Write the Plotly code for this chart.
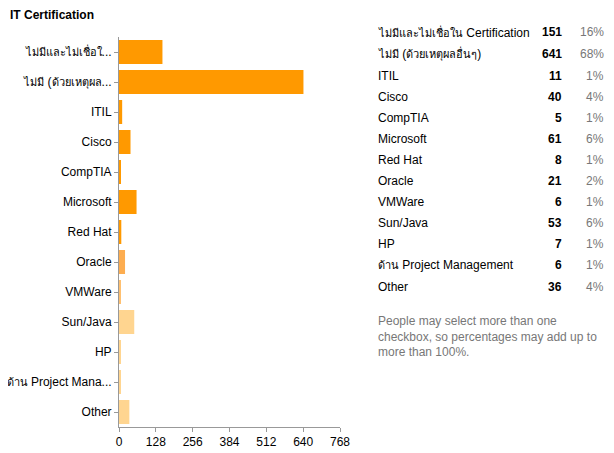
import plotly.graph_objects as go

# Data
labels = ["ไม่มีและไม่เชื่อใน Certification", "ไม่มี (ด้วยเหตุผลอื่นๆ)", "ITIL", "Cisco", "CompTIA",
          "Microsoft", "Red Hat", "Oracle", "VMWare", "Sun/Java", "HP", "ด้าน Project Management", "Other"]
tick_labels = ["ไม่มีและไม่เชื่อใ...", "ไม่มี (ด้วยเหตุผล...", "ITIL", "Cisco", "CompTIA",
               "Microsoft", "Red Hat", "Oracle", "VMWare", "Sun/Java", "HP", "ด้าน Project Mana...", "Other"]
counts = [151, 641, 11, 40, 5, 61, 8, 21, 6, 53, 7, 6, 36]
percents = ["16%", "68%", "1%", "4%", "1%", "6%", "1%", "2%", "1%", "6%", "1%", "1%", "4%"]
x_ticks = [0, 128, 256, 384, 512, 640, 768]

colors = ["#FF9900"] * 7 + ["#FDAD50", "#FFC070"] + ["#FFD590"] * 4

# page body has an 8px margin, so the figure sits at (8, 8) in the window
OFF = 8
W, H = 614 - OFF, 453 - OFF
L, R, T, B = 119 - OFF, 340 - OFF, 37 - OFF, 427 - OFF
FONT = "Arial, Liberation Sans, DejaVu Sans, sans-serif"


def thai_small(s):
    # the fallback Thai font runs wider than the original, so set Thai runs a bit smaller
    out, run = "", ""
    for ch in s:
        if "\u0e00" <= ch <= "\u0e7f":
            run += ch
        else:
            if run:
                out += '<span style="font-size:11px">%s</span>' % run
                run = ""
            out += ch
    if run:
        out += '<span style="font-size:11px">%s</span>' % run
    return out


fig = go.Figure(go.Bar(
    x=counts, y=tick_labels, orientation="h",
    marker=dict(color=colors, line=dict(width=0)),
))

# window pixel -> paper coordinates
def px_x(px):
    return (px - OFF - L) / (R - L)

def px_y(py):
    return (B - (py - OFF)) / (B - T)

ann = [dict(text="<b>IT Certification</b>", x=px_x(8), y=px_y(15), xref="paper", yref="paper",
            xanchor="left", yanchor="middle", showarrow=False, font=dict(size=12, color="#000"))]

row_y = [32, 54, 76, 97, 118, 139, 160, 181, 202, 223, 244, 265, 287]
for lab, c, p, ry in zip(labels, counts, percents, row_y):
    ann.append(dict(text=thai_small(lab), x=px_x(376), y=px_y(ry), xref="paper", yref="paper",
                    xanchor="left", yanchor="middle", showarrow=False,
                    font=dict(size=12, color="#000")))
    ann.append(dict(text="<b>%d</b>" % c, x=px_x(564), y=px_y(ry), xref="paper", yref="paper",
                    xanchor="right", yanchor="middle", showarrow=False,
                    font=dict(size=12, color="#000")))
    ann.append(dict(text=p, x=px_x(606), y=px_y(ry), xref="paper", yref="paper",
                    xanchor="right", yanchor="middle", showarrow=False,
                    font=dict(size=12, color="#777")))

ann.append(dict(text="People may select more than one<br>checkbox, so percentages may add up to<br>more than 100%.",
                x=px_x(376), y=px_y(312), xref="paper", yref="paper", align="left",
                xanchor="left", yanchor="top", showarrow=False,
                font=dict(size=12, color="#777")))

fig.update_layout(
    width=W, height=H,
    margin=dict(l=L, r=W - R, t=T, b=H - B, pad=0),
    paper_bgcolor="white", plot_bgcolor="white",
    font=dict(family=FONT, size=12, color="#000"),
    showlegend=False, bargap=0.2,
    annotations=ann,
    xaxis=dict(range=[0, 768], tickvals=x_ticks, showgrid=False, zeroline=False,
               showline=True, linecolor="#999", linewidth=1, automargin=False,
               ticks="outside", ticklen=4, tickcolor="#999",
               tickfont=dict(size=12, color="#000")),
    yaxis=dict(autorange="reversed", showgrid=False, zeroline=False,
               tickvals=tick_labels, ticktext=[thai_small(t) for t in tick_labels],
               showline=True, linecolor="#999", linewidth=1, automargin=False,
               ticks="outside", ticklen=4, tickcolor="#999",
               tickfont=dict(size=12, color="#000")),
)

fig.write_html("out.html")
